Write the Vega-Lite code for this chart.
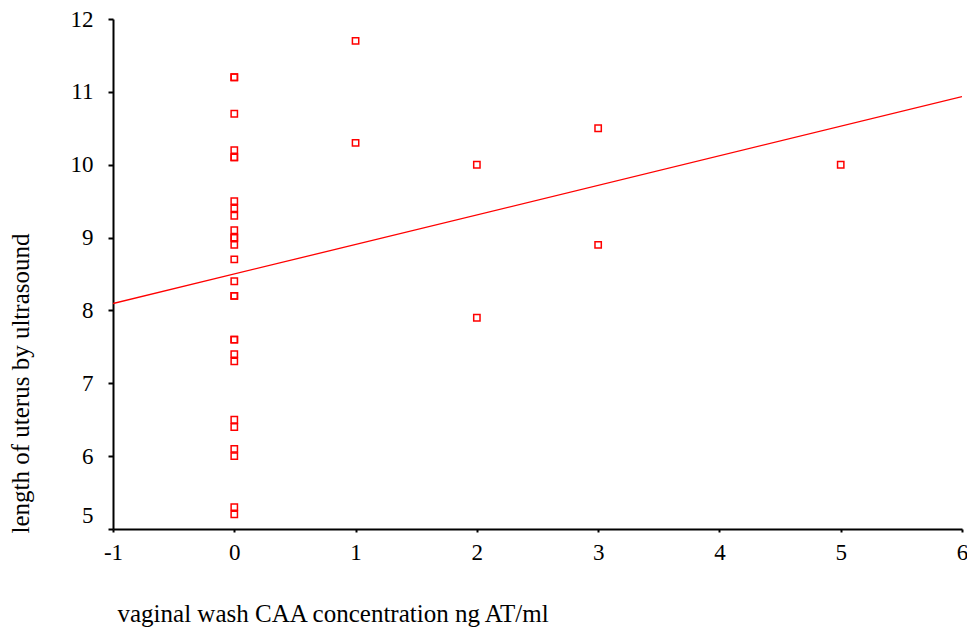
{
  "$schema": "https://vega.github.io/schema/vega-lite/v6.json",
  "width": 849,
  "height": 510,
  "autosize": "none",
  "padding": {"left": 113, "top": 19, "right": 5, "bottom": 101},
  "background": "white",
  "config": {
    "view": {"stroke": null},
    "font": "Liberation Serif",
    "axis": {
      "grid": false,
      "domainColor": "black",
      "domainWidth": 2,
      "tickColor": "black",
      "tickWidth": 2,
      "labelFont": "Liberation Serif",
      "titleFont": "Liberation Serif",
      "labelFontSize": 23,
      "titleFontSize": 25,
      "titleFontWeight": "normal",
      "labelColor": "black",
      "titleColor": "black"
    }
  },
  "data": {
    "values": [
      {"caa": 0, "length": 11.2}, {"caa": 0, "length": 11.2}, {"caa": 0, "length": 10.7},
      {"caa": 0, "length": 10.2}, {"caa": 0, "length": 10.1}, {"caa": 0, "length": 10.1},
      {"caa": 0, "length": 9.5}, {"caa": 0, "length": 9.4}, {"caa": 0, "length": 9.3},
      {"caa": 0, "length": 9.1}, {"caa": 0, "length": 9.0}, {"caa": 0, "length": 9.0},
      {"caa": 0, "length": 8.9}, {"caa": 0, "length": 8.7}, {"caa": 0, "length": 8.4},
      {"caa": 0, "length": 8.2}, {"caa": 0, "length": 8.2}, {"caa": 0, "length": 7.6},
      {"caa": 0, "length": 7.6}, {"caa": 0, "length": 7.4}, {"caa": 0, "length": 7.3},
      {"caa": 0, "length": 6.5}, {"caa": 0, "length": 6.4}, {"caa": 0, "length": 6.1},
      {"caa": 0, "length": 6.0}, {"caa": 0, "length": 5.3}, {"caa": 0, "length": 5.2},
      {"caa": 1, "length": 11.7}, {"caa": 1, "length": 10.3},
      {"caa": 2, "length": 10.0}, {"caa": 2, "length": 7.9},
      {"caa": 3, "length": 10.5}, {"caa": 3, "length": 8.9},
      {"caa": 5, "length": 10.0}
    ]
  },
  "layer": [
    {
      "transform": [{"regression": "length", "on": "caa", "extent": [-1, 6]}],
      "mark": {"type": "line", "color": "#FF0000", "strokeWidth": 1.3, "clip": true},
      "encoding": {
        "x": {"field": "caa", "type": "quantitative"},
        "y": {"field": "length", "type": "quantitative"}
      }
    },
    {
      "mark": {"type": "square", "filled": false, "color": "#FF0000", "size": 40, "strokeWidth": 1.5, "opacity": 1},
      "encoding": {
        "x": {
          "field": "caa", "type": "quantitative",
          "scale": {"domain": [-1, 6], "nice": false, "zero": false},
          "axis": {
            "title": "vaginal wash CAA concentration ng AT/ml",
            "titleAnchor": "start",
            "titleAlign": "left",
            "titleX": 4,
            "titlePadding": 37,
            "values": [-1, 0, 1, 2, 3, 4, 5, 6],
            "labelExpr": "'' + datum.value",
            "tickSize": 3,
            "labelPadding": 9,
            "labelFlush": false
          }
        },
        "y": {
          "field": "length", "type": "quantitative",
          "scale": {"domain": [5, 12], "nice": false, "zero": false},
          "axis": {
            "title": "length of uterus by ultrasound",
            "titleAnchor": "start",
            "titleAlign": "left",
            "titleY": 514,
            "titlePadding": 37,
            "values": [5, 6, 7, 8, 9, 10, 11, 12],
            "labelExpr": "'' + datum.value",
            "tickSize": 5,
            "labelPadding": 15,
            "labelFlush": false,
            "labelOffset": {"condition": {"test": "datum.value == 5", "value": -14}, "value": 0}
          }
        }
      }
    }
  ]
}
